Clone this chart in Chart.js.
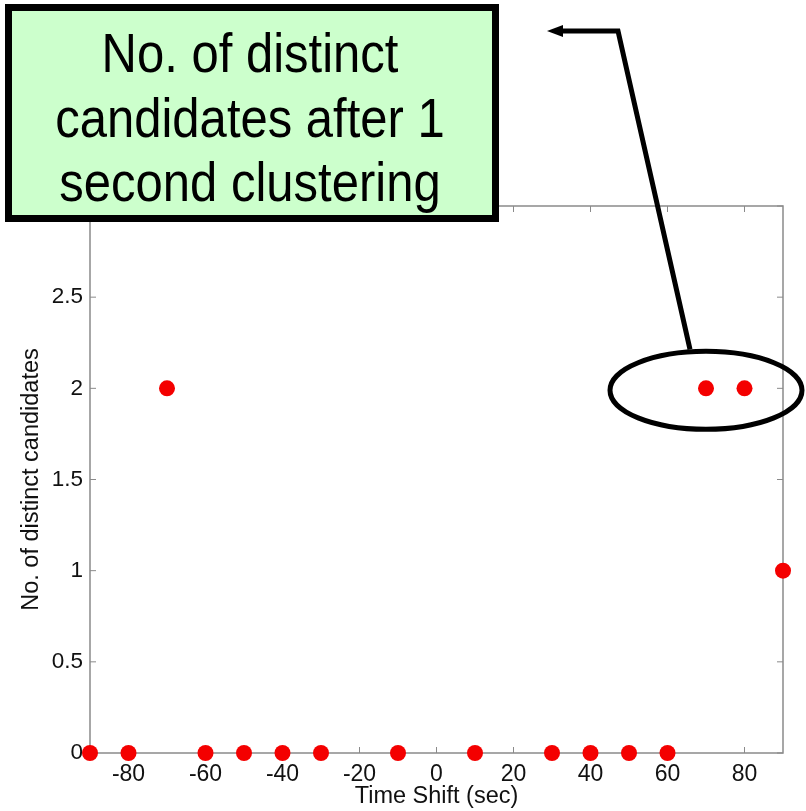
<!DOCTYPE html>
<html>
<head>
<meta charset="utf-8">
<script src="https://cdn.jsdelivr.net/npm/chart.js@4/dist/chart.umd.min.js"></script>
<style>
  html, body { margin: 0; padding: 0; background: #fff; }
  #wrap { width: 806px; height: 811px; }
</style>
</head>
<body>
<div id="wrap"><canvas id="plot" width="806" height="811"></canvas></div>
<script>
// values
const timeShift = [-90, -80, -70, -60, -50, -40, -30, -10, 10, 30, 40, 50, 60, 70, 80, 90];
const candidates = [0, 0, 2, 0, 0, 0, 0, 0, 0, 0, 0, 0, 0, 2, 2, 1];
const xTickValues = [-80, -60, -40, -20, 0, 20, 40, 60, 80];
const yTickValues = [0, 0.5, 1, 1.5, 2, 2.5, 3];
const noteLines = ['No. of distinct', 'candidates after 1', 'second clustering'];

const FONT = '"Liberation Sans", Arial, Helvetica, sans-serif';
const AXIS_GREY = '#8a8a8a';

// matlab style frame: box round the plot area, ticks pointing inwards
const framePlugin = {
  id: 'frame',
  beforeDatasetsDraw(chart) {
    const { ctx, chartArea: a, scales } = chart;
    ctx.save();
    ctx.strokeStyle = AXIS_GREY;
    ctx.lineWidth = 1.5;
    ctx.strokeRect(a.left, a.top, a.right - a.left, a.bottom - a.top);
    ctx.lineWidth = 1;
    ctx.beginPath();
    xTickValues.forEach(v => {
      const px = scales.x.getPixelForValue(v);
      ctx.moveTo(px, a.bottom); ctx.lineTo(px, a.bottom - 6);
      ctx.moveTo(px, a.top); ctx.lineTo(px, a.top + 6);
    });
    yTickValues.forEach(v => {
      const py = scales.y.getPixelForValue(v);
      ctx.moveTo(a.left, py); ctx.lineTo(a.left + 6, py);
      ctx.moveTo(a.right, py); ctx.lineTo(a.right - 6, py);
    });
    ctx.stroke();
    ctx.restore();
  }
};

// green callout box, arrow and ellipse round the two points at 70/80
const notePlugin = {
  id: 'note',
  afterDraw(chart) {
    const { ctx, scales } = chart;
    const ex = scales.x.getPixelForValue(70);
    const ey = scales.y.getPixelForValue(2) + 2;
    ctx.save();

    // ellipse
    ctx.strokeStyle = '#000';
    ctx.lineWidth = 5;
    ctx.beginPath();
    ctx.ellipse(ex, ey, 96, 39, 0, 0, Math.PI * 2);
    ctx.stroke();

    // arrow from the ellipse up to the box
    ctx.lineWidth = 5;
    ctx.lineJoin = 'miter';
    ctx.beginPath();
    ctx.moveTo(ex - 16, ey - 41);
    ctx.lineTo(618, 31);
    ctx.lineTo(560, 31);
    ctx.stroke();
    ctx.fillStyle = '#000';
    ctx.beginPath();
    ctx.moveTo(547, 31);
    ctx.lineTo(563, 25);
    ctx.lineTo(563, 37);
    ctx.closePath();
    ctx.fill();

    // box
    ctx.fillStyle = '#ccffcc';
    ctx.fillRect(5, 4, 494, 218);
    ctx.lineWidth = 7;
    ctx.strokeRect(8.5, 7.5, 487, 211);

    ctx.fillStyle = '#000';
    ctx.textAlign = 'center';
    ctx.textBaseline = 'alphabetic';
    ctx.font = '49px ' + FONT;
    const baselines = [72, 137, 201];
    noteLines.forEach((t, i) => {
      ctx.save();
      ctx.translate(250, baselines[i]);
      ctx.scale(1, 1.12);
      ctx.fillText(t, 0, 0);
      ctx.restore();
    });
    ctx.restore();
  }
};

new Chart(document.getElementById('plot'), {
  type: 'scatter',
  data: {
    datasets: [{
      label: 'No. of distinct candidates',
      data: timeShift.map((x, i) => ({ x: x, y: candidates[i] })),
      backgroundColor: '#f40000',
      borderColor: '#f40000',
      pointRadius: 8,
      pointHoverRadius: 8,
      borderWidth: 0,
      clip: false,
    }]
  },
  plugins: [framePlugin, notePlugin],
  options: {
    responsive: false,
    animation: false,
    devicePixelRatio: 1,
    layout: { padding: { top: 206, right: 23, left: 0, bottom: 0 } },
    plugins: {
      legend: { display: false },
      tooltip: { enabled: false },
    },
    scales: {
      x: {
        type: 'linear',
        min: -90,
        max: 90,
        afterBuildTicks: scale => { scale.ticks = xTickValues.map(v => ({ value: v })); },
        afterFit: scale => { scale.height = 58; },
        grid: { display: false, drawTicks: false },
        border: { display: false },
        ticks: {
          padding: 8,
          color: '#111',
          maxRotation: 0,
          font: { family: FONT, size: 23 },
        },
        title: {
          display: true,
          text: 'Time Shift (sec)',
          color: '#111',
          font: { family: FONT, size: 23.5 },
          padding: { top: 0, bottom: 0 },
        }
      },
      y: {
        type: 'linear',
        min: 0,
        max: 3,
        afterBuildTicks: scale => { scale.ticks = yTickValues.map(v => ({ value: v })); },
        afterFit: scale => { scale.width = 90; },
        grid: { display: false, drawTicks: false },
        border: { display: false },
        ticks: {
          padding: 7,
          color: '#111',
          font: { family: FONT, size: 22.5 },
          callback: v => `${v}`,
        },
        title: {
          display: true,
          text: 'No. of distinct candidates',
          color: '#111',
          font: { family: FONT, size: 23.5 },
          padding: { top: 17, bottom: 0 },
        }
      }
    }
  }
});
</script>
</body>
</html>
